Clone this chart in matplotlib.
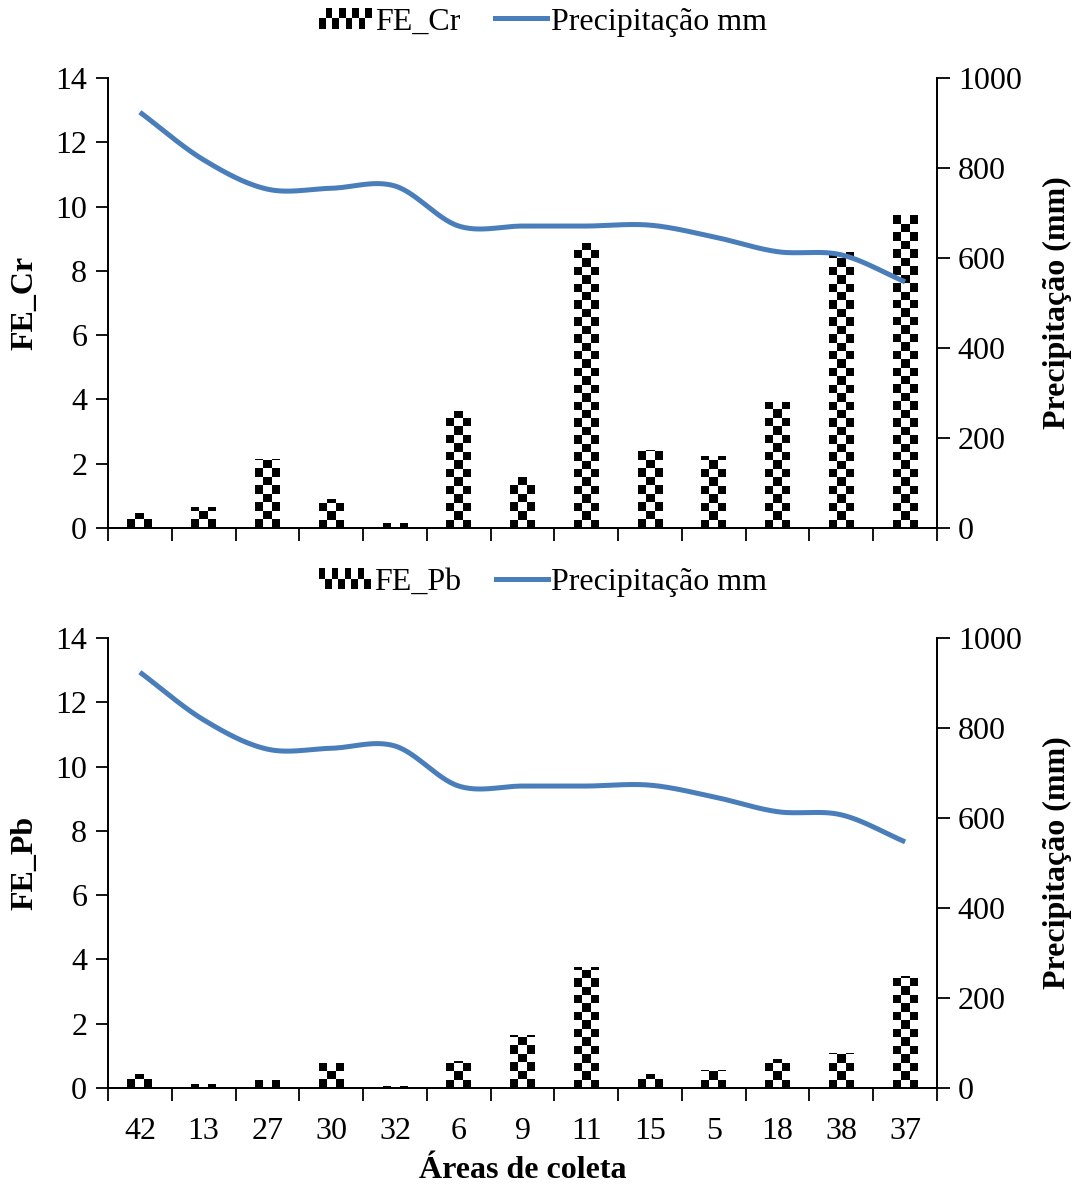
import numpy as np
import matplotlib
matplotlib.use("Agg")
import matplotlib.pyplot as plt
from matplotlib.patches import Rectangle
from matplotlib.legend_handler import HandlerBase
from matplotlib.lines import Line2D

plt.rcParams['font.family'] = ['Liberation Serif', 'DejaVu Serif']

areas = ['42', '13', '27', '30', '32', '6', '9', '11', '15', '5', '18', '38', '37']
fe_cr = [0.46, 0.66, 2.15, 0.90, 0.15, 3.65, 1.60, 8.86, 2.43, 2.25, 3.93, 8.58, 9.74]
fe_pb = [0.43, 0.12, 0.25, 0.79, 0.06, 0.84, 1.65, 3.78, 0.44, 0.56, 0.90, 1.08, 3.49]
precip = [924, 818, 753, 755, 760, 671, 671, 671, 673, 647, 614, 607, 547]

LINE_COLOR = '#4a7ebb'
FS = 23


def catmull_rom(x, y, n=30):
    x = np.asarray(x, float); y = np.asarray(y, float)
    px = np.concatenate([[2*x[0]-x[1]], x, [2*x[-1]-x[-2]]])
    py = np.concatenate([[2*y[0]-y[1]], y, [2*y[-1]-y[-2]]])
    xs, ys = [], []
    for i in range(1, len(px)-2):
        t = np.linspace(0, 1, n, endpoint=False)
        for arr, out in ((px, xs), (py, ys)):
            p0, p1, p2, p3 = arr[i-1], arr[i], arr[i+1], arr[i+2]
            out.append(0.5*((2*p1) + (-p0+p2)*t + (2*p0-5*p1+4*p2-p3)*t**2 + (-p0+3*p1-3*p2+p3)*t**3))
    xs.append([x[-1]]); ys.append([y[-1]])
    return np.concatenate(xs), np.concatenate(ys)


class CheckerHandler(HandlerBase):
    def __init__(self, phase=0):
        super().__init__()
        self.phase = phase

    def create_artists(self, legend, orig_handle, xdescent, ydescent, width, height, fontsize, trans):
        arts = []
        ncol, nrow = 8, 2
        w = width / ncol
        h = height * 0.9 / nrow
        y0 = -ydescent + height * 0.05
        for i in range(ncol):
            for j in range(nrow):
                if (i + j + self.phase) % 2 == 0:
                    arts.append(Rectangle((-xdescent + i*w, y0 + j*h), w, h, facecolor='black',
                                          edgecolor='none', transform=trans))
        return arts


def checker_bars(ax, values, width=0.39, sq_h=0.262, ncols=3):
    x = np.arange(len(values))
    bars = ax.bar(x, values, width=width, facecolor='white', edgecolor='none', zorder=1)
    for b in bars:
        h = b.get_height()
        if h <= 0:
            continue
        rows = int(np.ceil(h / sq_h))
        arr = (np.add.outer(np.arange(rows), np.arange(ncols)) % 2).astype(float)
        im = ax.imshow(arr, cmap='gray', vmin=0, vmax=1, interpolation='nearest',
                       origin='lower', aspect='auto',
                       extent=[b.get_x(), b.get_x() + b.get_width(), 0, rows*sq_h], zorder=2)
        im.set_clip_path(b)
    return bars


fig = plt.figure(figsize=(10.78, 11.86), dpi=100)
L, W, H = 108/1078, 829/1078, 450/1186
positions = [1 - 528/1186, 1 - 1088/1186]
datasets = [('FE_Cr', fe_cr, 0), ('FE_Pb', fe_pb, 1)]
legend_y = [1 - 22/1186, 1 - 582/1186]

for k, ((name, vals, phase), bottom) in enumerate(zip(datasets, positions)):
    ax = fig.add_axes([L, bottom, W, H])
    checker_bars(ax, vals)
    n = len(areas)
    ax.set_xlim(-0.5, n - 0.5)
    ax.set_ylim(0, 14)
    ax.set_yticks(np.arange(0, 15, 2))
    ax.set_xticks(np.arange(n))
    ax.set_xticks(np.arange(-0.5, n, 1), minor=True)
    ax.tick_params(axis='x', which='major', length=0, labelsize=FS, pad=21,
                   labelbottom=(k == 1))
    ax.tick_params(axis='x', which='minor', length=9, width=1.3, direction='out')
    ax.tick_params(axis='y', length=9, width=1.3, direction='out', labelsize=FS, pad=6)
    ax.set_xticklabels(areas)
    ax.spines['top'].set_visible(False)
    for s in ax.spines.values():
        s.set_linewidth(1.3)
    ax.set_ylabel(name, fontsize=FS, fontweight='bold')
    ax.yaxis.set_label_coords(-0.083, 0.5)

    ax2 = ax.twinx()
    xs, ys = catmull_rom(np.arange(n), precip)
    ax2.plot(xs, ys, color=LINE_COLOR, lw=3.6, solid_capstyle='butt', zorder=3)
    ax2.set_ylim(0, 1000)
    ax2.set_yticks(np.arange(0, 1001, 200))
    ax2.tick_params(axis='y', length=9, width=1.3, direction='out', labelsize=FS, pad=6)
    ax2.spines['top'].set_visible(False)
    for s in ax2.spines.values():
        s.set_linewidth(1.3)
    ax2.set_ylabel('Precipitação (mm)', fontsize=FS, fontweight='bold')
    ax2.yaxis.set_label_coords(1.128, 0.5)

    checker_handle = Rectangle((0, 0), 1, 1)
    line_handle = Line2D([], [], color=LINE_COLOR, lw=3.6)
    fig.legend([checker_handle, line_handle], [name, 'Precipitação mm'],
               handler_map={checker_handle: CheckerHandler(phase)},
               loc='center', bbox_to_anchor=(543/1078, legend_y[k]), ncol=2,
               frameon=False, fontsize=FS, handlelength=1.63, handletextpad=0.1,
               columnspacing=1.1, borderaxespad=0)

    if k == 1:
        ax.set_xlabel('Áreas de coleta', fontsize=FS, fontweight='bold', labelpad=7)

fig.savefig('out.png', dpi=100)
